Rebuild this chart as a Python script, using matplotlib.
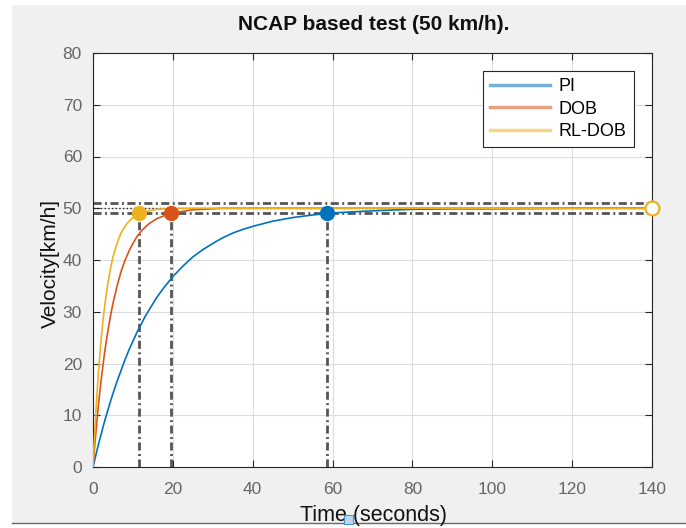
import matplotlib
matplotlib.use("Agg")
import matplotlib.pyplot as plt
from matplotlib.lines import Line2D
from matplotlib.patches import Rectangle

plt.rcParams['font.family'] = ['Liberation Sans', 'DejaVu Sans']

# ---- data ----
t = [0, 0.25, 0.5, 1, 1.5, 2, 2.5, 3, 3.5, 4, 4.5, 5, 6, 7, 8, 9, 10, 11, 12, 13,
     14, 16, 18, 20, 22.5, 25, 27.5, 30, 32.5, 35, 37.5, 40, 45, 50, 55, 60, 70,
     80, 90, 100, 120, 140]
v_pi = [0, 0.8, 1.6, 3.2, 4.8, 6.2, 7.7, 9.1, 10.4, 11.7, 13.0, 14.2, 16.5, 18.6,
        20.7, 22.6, 24.3, 26.0, 27.5, 29.0, 30.3, 32.8, 34.9, 36.8, 38.8, 40.6,
        42.0, 43.2, 44.3, 45.2, 45.9, 46.5, 47.5, 48.2, 48.7, 49.1, 49.5, 49.8,
        49.9, 49.9, 50.0, 50.0]
v_dob = [0, 2.4, 4.8, 9.1, 13.0, 16.5, 19.7, 22.6, 25.2, 27.5, 29.7, 31.6, 34.9,
         37.7, 39.9, 41.7, 43.2, 44.5, 45.5, 46.3, 47.0, 48.0, 48.6, 49.1, 49.4,
         49.7, 49.8, 49.9, 50.0, 50.0, 50.0, 50.0, 50.0, 50.0, 50.0, 50.0, 50.0,
         50.0, 50.0, 50.0, 50.0, 50.0]
v_rl = [0, 4.0, 7.7, 14.2, 19.7, 24.3, 28.3, 31.6, 34.4, 36.8, 38.8, 40.6, 43.2,
        45.2, 46.5, 47.5, 48.2, 48.7, 49.1, 49.3, 49.5, 49.8, 49.9, 49.9, 50.0,
        50.0, 50.0, 50.0, 50.0, 50.0, 50.0, 50.0, 50.0, 50.0, 50.0, 50.0, 50.0,
        50.0, 50.0, 50.0, 50.0, 50.0]
labels = ["PI", "DOB", "RL-DOB"]
settle_t = [58.6, 19.6, 11.6]   # PI, DOB, RL-DOB time at 98 %
settle_v = 49.0
band_hi, band_ref, band_lo = 51.0, 50.0, 49.0
end_t, end_v = 140.0, 50.0
xticks = [0, 20, 40, 60, 80, 100, 120, 140]
yticks = [0, 10, 20, 30, 40, 50, 60, 70, 80]

c_blue, c_orange, c_yellow = "#0072BD", "#D95319", "#EDB120"
colors = [c_blue, c_orange, c_yellow]

W, H = 686, 528
fig = plt.figure(figsize=(W / 100, H / 100), dpi=100, facecolor="white")
# grey MATLAB window area
fig.patches.append(Rectangle((12 / W, 5 / H), 1 - 12 / W, (523 - 5) / H,
                             transform=fig.transFigure, facecolor="#f0f0f0",
                             edgecolor="none", zorder=-10))
fig.lines.append(Line2D([12 / W, 1], [5 / H, 5 / H], transform=fig.transFigure,
                        color="#6a6a6a", lw=1))

ax = fig.add_axes([93 / W, (H - 467) / H, (652 - 93) / W, (467 - 53) / H])
ax.set_facecolor("white")

# reference lines
dashdot = (0, (2.9, 1.25, 0.7, 1.25))
ref_kw = dict(color="#555555", lw=2.0, linestyle=dashdot, zorder=2)
ax.plot([0, 140], [band_hi, band_hi], **ref_kw)
ax.plot([0, 140], [band_lo, band_lo], **ref_kw)
ax.plot([0, 140], [band_ref, band_ref], color="#222222", lw=1.0, linestyle=":", zorder=2)
for st in settle_t:
    ax.plot([st, st], [0, settle_v], **ref_kw)

# curves
for v, c, lab in zip([v_pi, v_dob, v_rl], colors, labels):
    ax.plot(t, v, color=c, lw=1.2, label=lab, zorder=3)

# settle markers
for st, c in zip(settle_t, colors):
    ax.plot([st], [settle_v], "o", color=c, markersize=10, zorder=5)
ax.plot([end_t], [end_v], "o", markerfacecolor="white", markeredgecolor=c_yellow,
        markeredgewidth=1.6, markersize=10, zorder=5, clip_on=False)

ax.set_xlim(0, 140)
ax.set_ylim(0, 80)
ax.set_xticks(xticks)
ax.set_yticks(yticks)
ax.grid(True, color="#dcdcdc", lw=0.8)
ax.set_axisbelow(True)
ax.tick_params(direction="in", top=True, right=True, length=5, width=0.8,
               colors="#262626", labelcolor="#666666", labelsize=12.5)
ax.tick_params(axis="x", pad=11)
ax.tick_params(axis="y", pad=8)
for s in ax.spines.values():
    s.set_color("#262626")
    s.set_linewidth(0.8)

fig.text(374 / W, (H - 24) / H, "NCAP based test (50 km/h).", fontsize=15,
         fontweight="bold", color="#111111", ha="center", va="center")
fig.text(374 / W, (H - 515) / H, "Time (seconds)", fontsize=15.5,
         color="#111111", ha="center", va="center")
fig.text(50 / W, (H - 263) / H, "Velocity[km/h]", rotation=90, fontsize=15,
         color="#111111", ha="center", va="center")

handles = [Line2D([0], [0], color=c, lw=2.5, alpha=0.55) for c in colors]
leg = ax.legend(handles, labels, loc="upper right", fontsize=13,
                handlelength=3.3, borderaxespad=1.0, fancybox=False,
                framealpha=1, edgecolor="#262626", labelspacing=0.3,
                borderpad=0.4, handletextpad=0.5)
leg.get_frame().set_linewidth(0.8)

# small blue selection square near the x label
fig.patches.append(Rectangle((344 / W, (H - 524) / H), 9 / W, 9 / H,
                             transform=fig.transFigure, facecolor="#bcd8f0",
                             edgecolor="#4a90d0", lw=0.8, zorder=10))

fig.savefig("out.png", dpi=100, facecolor=fig.get_facecolor())
